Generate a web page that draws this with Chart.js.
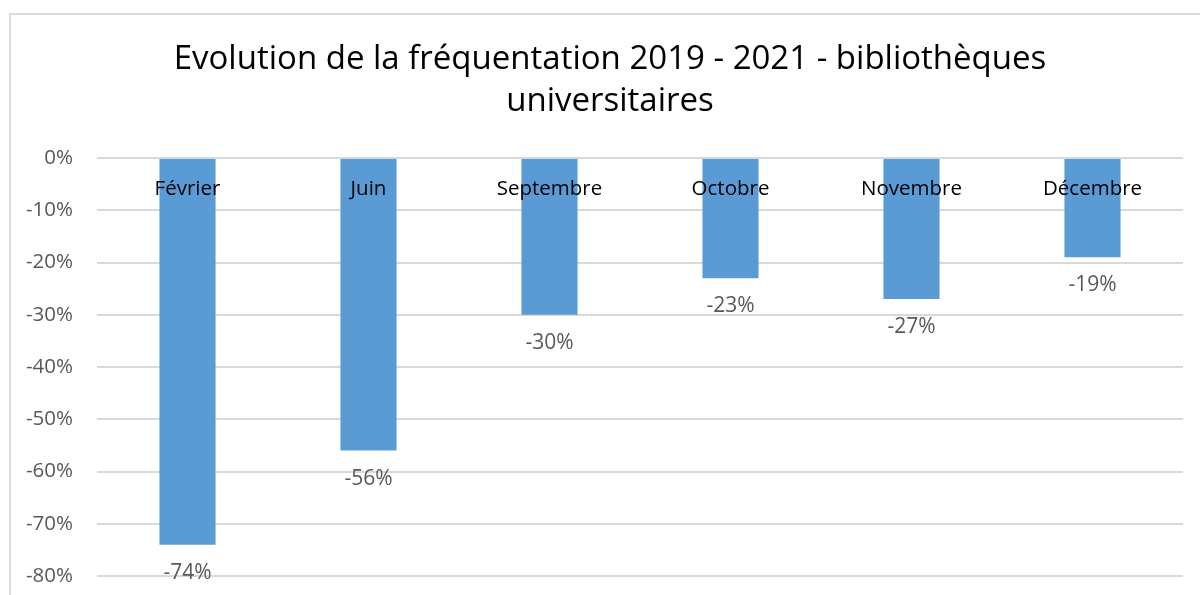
<!DOCTYPE html>
<html>
<head>
<meta charset="utf-8">
<script src="https://cdn.jsdelivr.net/npm/chart.js@4.4.0/dist/chart.umd.min.js"></script>
<style>
  html, body { margin: 0; padding: 0; background: #fff; overflow: hidden; }
  canvas { display: block; }
</style>
</head>
<body>
<canvas id="myChart" width="1200" height="595"></canvas>
<script>
const categories = ["Février", "Juin", "Septembre", "Octobre", "Novembre", "Décembre"];
const evolution = [-74, -56, -30, -23, -27, -19];
const yTicks = [0, -10, -20, -30, -40, -50, -60, -70, -80];
const titleLines = ["Evolution de la fréquentation 2019 - 2021 - bibliothèques", "universitaires"];

const FONT = "'Open Sans', 'Liberation Sans', sans-serif";

// cadre gris + titre (centre un peu decale comme dans l'original)
const framePlugin = {
  id: "frame",
  beforeDraw: (chart) => {
    const { ctx } = chart;
    ctx.save();
    ctx.fillStyle = "#fff";
    ctx.fillRect(0, 0, chart.width, chart.height);
    ctx.strokeStyle = "#d9d9d9";
    ctx.lineWidth = 2;
    ctx.beginPath();
    ctx.moveTo(10, chart.height);
    ctx.lineTo(10, 14);
    ctx.lineTo(chart.width, 14);
    ctx.stroke();
    ctx.fillStyle = "#000";
    ctx.font = "33px " + FONT;
    ctx.textAlign = "center";
    ctx.textBaseline = "middle";
    titleLines.forEach((t, i) => ctx.fillText(t, 610, 60 + i * 42));
    ctx.restore();
  },
};

// noms des mois sous la ligne 0 + etiquettes des valeurs sous les barres
const labelsPlugin = {
  id: "barLabels",
  afterDatasetsDraw: (chart) => {
    const { ctx } = chart;
    const xs = chart.scales.x;
    const ys = chart.scales.y;
    const y0 = ys.getPixelForValue(0);
    ctx.save();
    ctx.textAlign = "center";
    ctx.textBaseline = "middle";
    ctx.font = "20.5px " + FONT;
    ctx.fillStyle = "#000";
    categories.forEach((c, i) => {
      ctx.fillText(c, xs.getPixelForValue(i), y0 + 31);
    });
    ctx.font = "21px " + FONT;
    ctx.fillStyle = "#595959";
    chart.getDatasetMeta(0).data.forEach((bar, i) => {
      ctx.fillText(evolution[i] + "%", bar.x, bar.y + 28);
    });
    ctx.restore();
  },
};

new Chart(document.getElementById("myChart"), {
  type: "bar",
  data: {
    labels: categories,
    datasets: [
      {
        data: evolution,
        backgroundColor: "#5B9BD5",
        borderWidth: 0,
        categoryPercentage: 1,
        barPercentage: 0.31,
      },
    ],
  },
  options: {
    responsive: false,
    animation: false,
    layout: { padding: { left: 0, right: 17, top: 158, bottom: 19 } },
    plugins: {
      legend: { display: false },
      tooltip: { enabled: false },
      title: { display: false },
    },
    scales: {
      x: { display: false },
      y: {
        min: -80,
        max: 0,
        afterFit: (scale) => {
          scale.width = 97;
          scale.paddingTop = 0;
          scale.paddingBottom = 0;
        },
        afterBuildTicks: (scale) => { scale.ticks = yTicks.map((v) => ({ value: v })); },
        grid: { color: "#d9d9d9", lineWidth: 2, drawTicks: false },
        border: { display: false },
        ticks: {
          padding: 24,
          color: "#595959",
          font: { family: FONT, size: 20.5 },
          callback: (v) => v + "%",
        },
      },
    },
  },
  plugins: [framePlugin, labelsPlugin],
});
</script>
</body>
</html>
